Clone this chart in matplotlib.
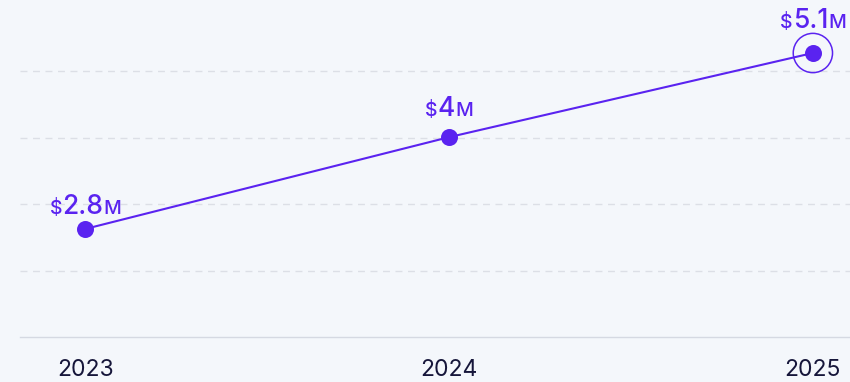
import matplotlib.pyplot as plt
from matplotlib.offsetbox import TextArea, HPacker, AnnotationBbox

# revenue by year, in millions of dollars
years = [2023, 2024, 2025]
revenue = [2.8, 4.0, 5.1]
value_labels = ["2.8", "4", "5.1"]
year_labels = ["2023", "2024", "2025"]

purple = "#5a23f0"
bg = "#f4f7fb"
plt.rcParams['font.family'] = ['Inter', 'DejaVu Sans']

fig = plt.figure(figsize=(8.5, 3.82), dpi=100, facecolor=bg)
ax = fig.add_axes([20 / 850, 45 / 382, 830 / 850, 332.5 / 382])
ax.set_facecolor(bg)

ax.set_xlim(2022.821, 2025.102)
ylo, yhi = 1.388, 5.734
ax.set_ylim(ylo, yhi)

# horizontal dashed guides at equal fractions of the height
step = (yhi - ylo) / 5
for k in range(1, 5):
    ax.axhline(ylo + k * step, color="#dcdfe6", lw=1, ls=(0, (5, 4)), zorder=1)

ax.plot(years, revenue, color=purple, lw=1.5, zorder=3)
ax.scatter(years, revenue, s=150, color=purple, zorder=4, linewidths=0)
# ring around the latest point
ax.scatter(years[-1:], revenue[-1:], s=800, facecolors="none",
           edgecolors=purple, linewidths=1.1, zorder=4)

# gap (px) between point centre and label baseline
offsets = [14, 20, 24]
for x, y, lab, off in zip(years, revenue, value_labels, offsets):
    parts = [TextArea("$", textprops=dict(color=purple, fontsize=14, fontweight="medium")),
             TextArea(lab, textprops=dict(color=purple, fontsize=19, fontweight="medium")),
             TextArea("M", textprops=dict(color=purple, fontsize=14, fontweight="medium"))]
    box = HPacker(children=parts, align="baseline", pad=0, sep=0)
    ab = AnnotationBbox(box, (x, y), xybox=(0, (off - 5) * 0.72),
                        xycoords="data", boxcoords="offset points",
                        box_alignment=(0.5, 0.0), frameon=False, zorder=5)
    ax.add_artist(ab)

for s in ["top", "right", "left"]:
    ax.spines[s].set_visible(False)
ax.spines["bottom"].set_color("#d5d9e2")
ax.spines["bottom"].set_linewidth(1)
ax.set_yticks([])
ax.set_xticks(years)
ax.set_xticklabels(year_labels, fontsize=16.5, color="#16163a")
ax.tick_params(axis="x", length=0, pad=16)

fig.savefig("out.png", dpi=100, facecolor=bg)
